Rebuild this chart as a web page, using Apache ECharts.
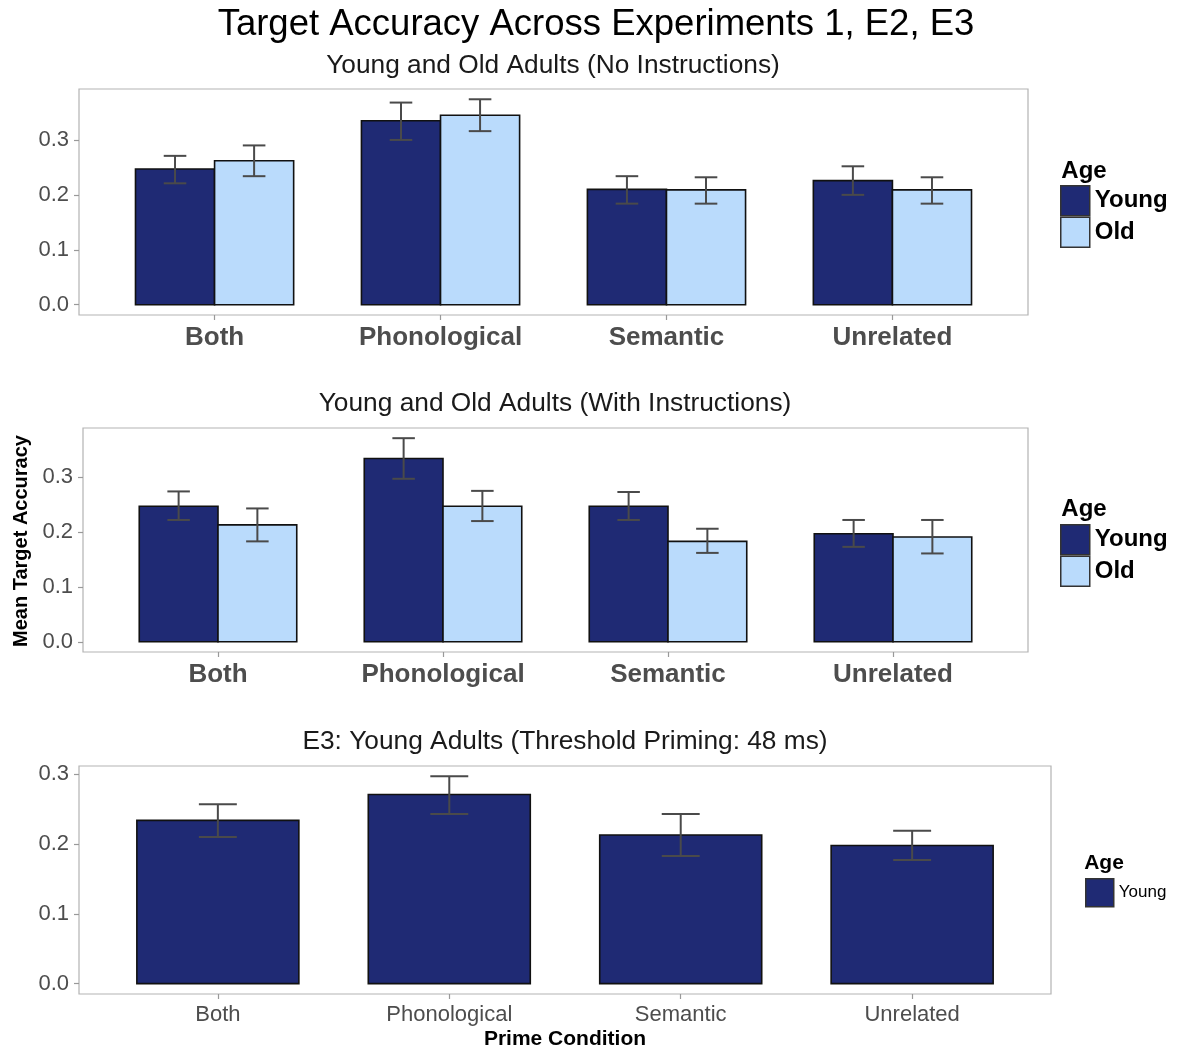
<!DOCTYPE html>
<html>
<head>
<meta charset="utf-8">
<script src="https://cdn.jsdelivr.net/npm/echarts@6/dist/echarts.min.js"></script>
<style>
  html, body { margin: 0; padding: 0; background: #fff; }
  #chart { width: 1178px; height: 1053px; }
</style>
</head>
<body>
<div id="chart"></div>
<script>
// Prime conditions on the x axis
const categories = ['Both', 'Phonological', 'Semantic', 'Unrelated'];
const yTicks = [0, 0.1, 0.2, 0.3];

// Experiment 1: no instructions
const e1YoungMean = [0.247, 0.335, 0.210, 0.226];
const e1YoungLo   = [0.221, 0.300, 0.184, 0.200];
const e1YoungHi   = [0.271, 0.368, 0.234, 0.252];
const e1OldMean   = [0.262, 0.345, 0.209, 0.209];
const e1OldLo     = [0.234, 0.316, 0.184, 0.184];
const e1OldHi     = [0.290, 0.374, 0.232, 0.232];

// Experiment 2: with instructions
const e2YoungMean = [0.247, 0.334, 0.247, 0.197];
const e2YoungLo   = [0.222, 0.297, 0.222, 0.173];
const e2YoungHi   = [0.274, 0.371, 0.273, 0.222];
const e2OldMean   = [0.213, 0.247, 0.183, 0.191];
const e2OldLo     = [0.183, 0.220, 0.162, 0.161];
const e2OldHi     = [0.243, 0.275, 0.206, 0.222];

// Experiment 3: young adults, threshold priming
const e3YoungMean = [0.234, 0.271, 0.213, 0.198];
const e3YoungLo   = [0.210, 0.243, 0.183, 0.177];
const e3YoungHi   = [0.257, 0.297, 0.243, 0.219];

const YOUNG = '#1f2a74';
const OLD = '#badbfc';
const FONT = '"Liberation Sans", Arial, Helvetica, sans-serif';

const chart = echarts.init(document.getElementById('chart'), null, { renderer: 'canvas' });

// y range from 0 to the highest error bar, padded by 5% on both ends
function yRange(his) {
  const top = Math.max(...his.flat());
  const pad = top * 0.05;
  return { min: -pad, max: top + pad };
}

const grids = [
  { left: 79, right: 150, top: 89, height: 226 },
  { left: 83, right: 150, top: 428, height: 224 },
  { left: 79, right: 127, top: 766, height: 228 }
];
const ranges = [
  yRange([e1YoungHi, e1OldHi]),
  yRange([e2YoungHi, e2OldHi]),
  yRange([e3YoungHi])
];
const boldLabels = [true, true, false];

function xAxisFor(i) {
  const bold = boldLabels[i];
  return {
    type: 'value', gridIndex: i, min: 0.4, max: 4.6,
    splitLine: { show: false },
    axisLine: { show: false, onZero: false },
    axisTick: { show: true, length: 5, customValues: [1, 2, 3, 4], lineStyle: { color: '#999', width: 1.2 } },
    axisLabel: {
      customValues: [1, 2, 3, 4],
      formatter: v => categories[Math.round(v) - 1],
      fontFamily: FONT, fontSize: bold ? 26 : 22, fontWeight: bold ? 'bold' : 'normal',
      color: '#4d4d4d', margin: 10
    }
  };
}
function yAxisFor(i) {
  return {
    type: 'value', gridIndex: i, min: ranges[i].min, max: ranges[i].max,
    splitLine: { show: false },
    axisLine: { show: false, onZero: false },
    axisTick: { show: true, length: 5, customValues: yTicks, lineStyle: { color: '#999', width: 1.2 } },
    axisLabel: {
      customValues: yTicks, formatter: v => v.toFixed(1),
      fontFamily: FONT, fontSize: 22, color: '#4d4d4d', margin: 10
    }
  };
}

// bar drawn as a rectangle spanning [cat+off0, cat+off1] along x
function barSeries(name, gi, means, off0, off1, color) {
  return {
    type: 'custom', name, xAxisIndex: gi, yAxisIndex: gi,
    itemStyle: { color },
    encode: { x: 0, y: 1 },
    data: means.map((m, k) => [k + 1, m]),
    renderItem(params, api) {
      const c = api.value(0), v = api.value(1);
      const p0 = api.coord([c + off0, v]);
      const p1 = api.coord([c + off1, 0]);
      return {
        type: 'rect',
        shape: { x: p0[0], y: p0[1], width: p1[0] - p0[0], height: p1[1] - p0[1] },
        style: { fill: color, stroke: '#111', lineWidth: 1.6 }
      };
    },
    z: 2
  };
}

function errSeries(name, gi, lo, hi, off, half) {
  return {
    type: 'custom', name: name + ' err', xAxisIndex: gi, yAxisIndex: gi,
    encode: { x: 0, y: [1, 2] },
    data: lo.map((l, k) => [k + 1, l, hi[k]]),
    renderItem(params, api) {
      const c = api.value(0) + off;
      const a = api.coord([c, api.value(1)]);
      const b = api.coord([c, api.value(2)]);
      const la = api.coord([c - half, api.value(1)]);
      const ra = api.coord([c + half, api.value(1)]);
      const lb = api.coord([c - half, api.value(2)]);
      const rb = api.coord([c + half, api.value(2)]);
      const st = { stroke: '#4a4a4a', lineWidth: 2 };
      return {
        type: 'group',
        children: [
          { type: 'line', shape: { x1: a[0], y1: a[1], x2: b[0], y2: b[1] }, style: st },
          { type: 'line', shape: { x1: la[0], y1: la[1], x2: ra[0], y2: ra[1] }, style: st },
          { type: 'line', shape: { x1: lb[0], y1: lb[1], x2: rb[0], y2: rb[1] }, style: st }
        ]
      };
    },
    z: 3
  };
}

const series = [
  barSeries('Young', 0, e1YoungMean, -0.35, 0, YOUNG),
  barSeries('Old', 0, e1OldMean, 0, 0.35, OLD),
  errSeries('Young', 0, e1YoungLo, e1YoungHi, -0.175, 0.05),
  errSeries('Old', 0, e1OldLo, e1OldHi, 0.175, 0.05),
  barSeries('Young', 1, e2YoungMean, -0.35, 0, YOUNG),
  barSeries('Old', 1, e2OldMean, 0, 0.35, OLD),
  errSeries('Young', 1, e2YoungLo, e2YoungHi, -0.175, 0.05),
  errSeries('Old', 1, e2OldLo, e2OldHi, 0.175, 0.05),
  barSeries('Young', 2, e3YoungMean, -0.35, 0.35, YOUNG),
  errSeries('Young', 2, e3YoungLo, e3YoungHi, 0, 0.082)
];

function legendFor(top, left, bold, size, names, iw, ih) {
  return {
    orient: 'vertical', left, top, icon: 'rect', selectedMode: false,
    padding: 0, itemWidth: iw, itemHeight: ih, itemGap: 0,
    data: names,
    itemStyle: { borderColor: '#333', borderWidth: 1.5 },
    textStyle: { fontFamily: FONT, fontSize: size, fontWeight: bold ? 'bold' : 'normal', color: '#000' }
  };
}

function txt(text, x, y, size, weight, color, rotation) {
  return {
    type: 'text', x, y, rotation: rotation || 0,
    style: {
      text, fontFamily: FONT, fontSize: size, fontWeight: weight || 'normal',
      fill: color || '#000', align: 'center', verticalAlign: 'middle'
    }
  };
}

chart.setOption({
  animation: false,
  backgroundColor: '#fff',
  grid: grids.map(g => Object.assign({ show: true, borderColor: '#b3b3b3', borderWidth: 1.2, backgroundColor: 'transparent' }, g)),
  xAxis: [0, 1, 2].map(xAxisFor),
  yAxis: [0, 1, 2].map(yAxisFor),
  legend: [
    legendFor(185, 1060, true, 24, ['Young', 'Old'], 29, 30),
    legendFor(524, 1060, true, 24, ['Young', 'Old'], 29, 30),
    legendFor(878, 1085, false, 17, ['Young'], 28, 28)
  ],
  graphic: [
    txt('Target Accuracy Across Experiments 1, E2, E3', 596, 25, 36.5, 'normal', '#000'),
    txt('Young and Old Adults (No Instructions)', 553, 66, 26.3, 'normal', '#1a1a1a'),
    txt('Young and Old Adults (With Instructions)', 555, 404, 26.3, 'normal', '#1a1a1a'),
    txt('E3: Young Adults (Threshold Priming: 48 ms)', 565, 742, 26.3, 'normal', '#1a1a1a'),
    txt('Age', 1084, 171, 24, 'bold', '#000'),
    txt('Age', 1084, 509, 24, 'bold', '#000'),
    txt('Age', 1104, 863, 21, 'bold', '#000'),
    txt('Mean Target Accuracy', 21, 541, 20, 'bold', '#000', Math.PI / 2),
    txt('Prime Condition', 565, 1039, 21, 'bold', '#000')
  ],
  series
});
</script>
</body>
</html>
